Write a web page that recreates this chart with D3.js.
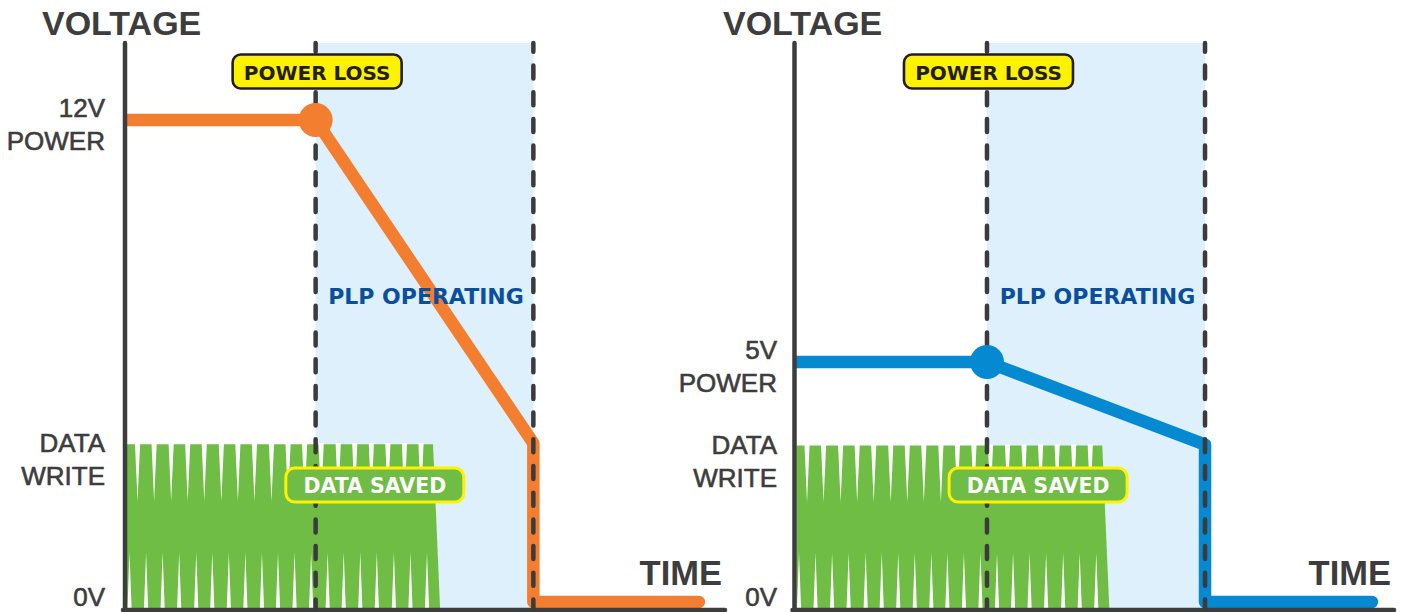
<!DOCTYPE html>
<html><head><meta charset="utf-8">
<script src="https://cdn.jsdelivr.net/npm/d3@7"></script>
<style>html,body{margin:0;padding:0;background:#fff;} svg{display:block}</style>
</head><body><svg id="chart" width="1412" height="612"></svg>
<script>
// ---------------- data ----------------
const supplyVoltage     = [12, 5];          // V, left / right panel
const supplyLabels      = [["12V", "POWER"], ["5V", "POWER"]];
const powerLossTime     = [19.0, 19.2];     // time units
const plpEndTime        = [40.7, 40.95];
const dataWriteVoltage  = [3.95, 3.28];     // V
const lineEndTime       = [57.2, 57.6];
const dataSavedTime     = [24.9, 24.3];     // centre of the DATA SAVED badge
const writeStartTime    = 0.2;
const writeEndTopTime   = 30.7;
const writeEndBottomTime= 31.4;
const topNotchTimes     = [1.25, 2.9, 4.6, 6.25, 7.9, 9.6, 11.25, 12.9, 14.6, 16.25, 17.9, 19.55, 21.25, 22.9, 24.55, 26.2, 27.85, 29.5];
const bottomNotchTimes  = [0.45, 2.1, 3.75, 5.4, 7.1, 8.7, 10.35, 12.0, 13.65, 15.25, 16.9, 18.55, 20.2, 21.8, 23.45, 25.1, 26.8, 28.45, 30.1];
const timeDomain        = [0, 60];
const dataWriteLabel    = ["DATA", "WRITE"];
const zeroLabel         = "0V";
const titleText         = "VOLTAGE";
const timeText          = "TIME";
const powerLossText     = "POWER LOSS";
const plpText           = "PLP OPERATING";
const savedText         = "DATA SAVED";
const lineColors        = ["#f47e30", "#0589d0"];

// ---------------- layout ----------------
const panels = [
  {axisX: 125,   axisEndX: 727,  titleX: 42,  labelRight: 105, ySupply: 120},
  {axisX: 794.5, axisEndX: 1396, titleX: 723, labelRight: 777, ySupply: 362}
];
const topY = 43, zeroY = 602, axisY = 610;
const dark = "#3d3d3d";
const svg = d3.select("#chart");
const defs = svg.append("defs");

panels.forEach((p, i) => {
  const g = svg.append("g");
  const x = d3.scaleLinear().domain(timeDomain).range([p.axisX, p.axisEndX]);
  const y = d3.scaleLinear().domain([0, supplyVoltage[i]]).range([zeroY, p.ySupply]);
  const xPL = x(powerLossTime[i]), xEnd = x(plpEndTime[i]);

  defs.append("clipPath").attr("id", "clip" + i).append("rect")
    .attr("x", p.axisX).attr("y", 0).attr("width", p.axisEndX - p.axisX + 20).attr("height", 612);

  // PLP region
  g.append("rect").attr("x", xPL).attr("y", topY).attr("width", xEnd - xPL).attr("height", axisY - topY)
    .attr("fill", "#ddf0fb");

  // data write area
  const gTop = y(dataWriteVoltage[i]) + 1, gBot = axisY - 2, h = gBot - gTop;
  g.append("path").attr("fill", "#6fbd44")
    .attr("d", d3.line()([[x(writeStartTime), gTop], [x(writeEndTopTime), gTop], [x(writeEndBottomTime), gBot], [x(writeStartTime), gBot]]) + "Z");
  g.selectAll(".tn").data(topNotchTimes).join("path").attr("fill", "#fff")
    .attr("d", t => d3.line()([[x(t) - 2.6, gTop - 1], [x(t) + 2.6, gTop - 1], [x(t), gTop + 0.35 * h]]) + "Z");
  g.selectAll(".bn").data(bottomNotchTimes).join("path").attr("fill", "#fff")
    .attr("d", t => d3.line()([[x(t) - 2.1, gBot + 1], [x(t) + 2.1, gBot + 1], [x(t), gBot - 0.34 * h]]) + "Z");

  // power line
  const pts = [[0, supplyVoltage[i]], [powerLossTime[i], supplyVoltage[i]], [plpEndTime[i], dataWriteVoltage[i]], [plpEndTime[i], 0], [lineEndTime[i], 0]];
  g.append("path").attr("fill", "none").attr("stroke", lineColors[i]).attr("stroke-width", 12.5)
    .attr("stroke-linejoin", "round").attr("stroke-linecap", "round").attr("clip-path", "url(#clip" + i + ")")
    .attr("d", d3.line().x(d => x(d[0])).y(d => y(d[1]))(pts));

  // axes
  g.append("line").attr("x1", p.axisX).attr("x2", p.axisX).attr("y1", topY).attr("y2", axisY)
    .attr("stroke", dark).attr("stroke-width", 4.5).attr("stroke-linecap", "round");
  g.append("line").attr("x1", p.axisX - 2).attr("x2", p.axisEndX - 2).attr("y1", axisY).attr("y2", axisY)
    .attr("stroke", dark).attr("stroke-width", 4.5).attr("stroke-linecap", "round");

  // dashed lines
  [powerLossTime[i], plpEndTime[i]].forEach(t => {
    g.append("line").attr("x1", x(t)).attr("x2", x(t)).attr("y1", topY).attr("y2", axisY)
      .attr("stroke", "#3b3b3b").attr("stroke-width", 4.5).attr("stroke-linecap", "round")
      .attr("stroke-dasharray", "13 13.7").attr("stroke-dashoffset", 4.2);
  });

  // dot
  g.append("circle").attr("cx", xPL).attr("cy", y(supplyVoltage[i])).attr("r", 17).attr("fill", lineColors[i]);

  // title and axis labels
  g.append("text").attr("x", p.titleX).attr("y", 35).text(titleText)
    .attr("font-family", "Liberation Sans, Arial, sans-serif").attr("font-weight", "bold").attr("font-size", 34).attr("fill", dark);
  g.append("text").attr("x", p.axisEndX - 5).attr("y", 585).attr("text-anchor", "end").text(timeText)
    .attr("font-family", "Liberation Sans, Arial, sans-serif").attr("font-weight", "bold").attr("font-size", 34.5).attr("fill", dark);

  const tick = (lines, cy) => {
    lines.forEach((s, k) => {
      g.append("text").attr("x", p.labelRight).attr("y", cy + (k - (lines.length - 1) / 2) * 33 + 9)
        .attr("text-anchor", "end").text(s)
        .attr("font-family", "Liberation Sans, Arial, sans-serif").attr("font-size", 26).attr("fill", dark)
        .attr("stroke", dark).attr("stroke-width", 0.6);
    });
  };
  tick(supplyLabels[i], y(supplyVoltage[i]) + 4.5);
  tick(dataWriteLabel, y(dataWriteVoltage[i]) + 16.5);
  tick([zeroLabel], y(0) - 5);

  // POWER LOSS badge
  g.append("rect").attr("x", xPL + 1.5 - 84.5).attr("y", 54.5).attr("width", 169).attr("height", 34).attr("rx", 8)
    .attr("fill", "#fff200").attr("stroke", "#231f20").attr("stroke-width", 2.6);
  g.append("text").attr("x", xPL + 1.5).attr("y", 79.5).attr("text-anchor", "middle").text(powerLossText)
    .attr("font-family", "DejaVu Sans, sans-serif").attr("font-weight", "bold").attr("font-size", 20).attr("fill", "#231f20");

  // PLP OPERATING
  g.append("text").attr("x", (xPL + xEnd) / 2 + 1.5).attr("y", 304).attr("text-anchor", "middle").text(plpText)
    .attr("font-family", "DejaVu Sans, sans-serif").attr("font-weight", "bold").attr("font-size", 22).attr("fill", "#0b4f9c");

  // DATA SAVED badge
  const cx = x(dataSavedTime[i]);
  g.append("rect").attr("x", cx - 89).attr("y", 468).attr("width", 178).attr("height", 34).attr("rx", 9)
    .attr("fill", "#6fbd44").attr("stroke", "#fff200").attr("stroke-width", 3);
  g.append("text").attr("x", cx).attr("y", 493).attr("text-anchor", "middle").text(savedText)
    .attr("font-family", "DejaVu Sans, sans-serif").attr("font-weight", "bold").attr("font-size", 20.5).attr("fill", "#fff");
});
</script>
</body></html>
